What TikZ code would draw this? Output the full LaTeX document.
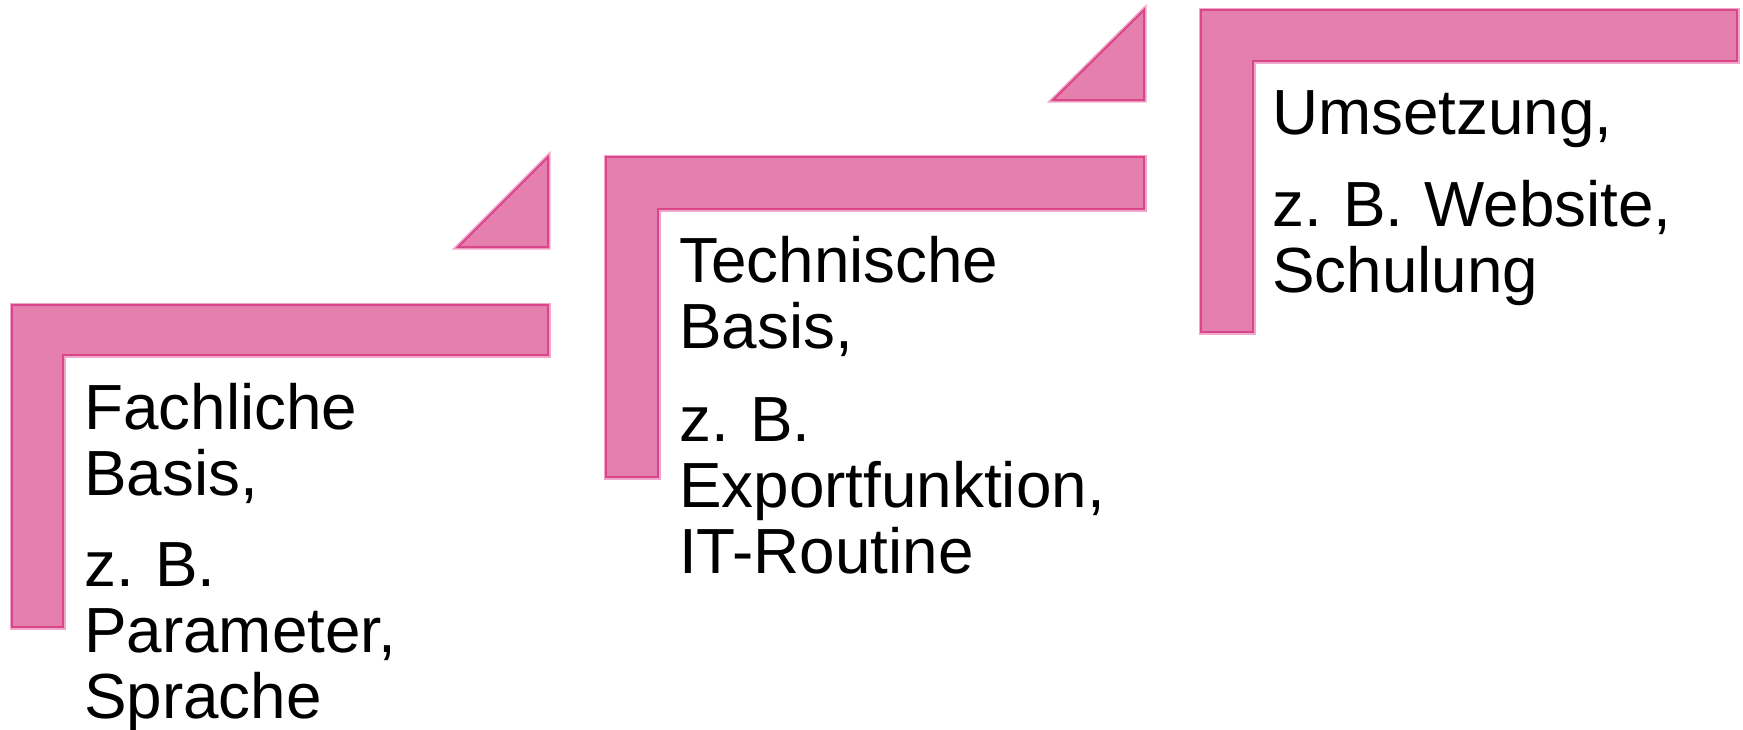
\documentclass[tikz,border=0pt]{standalone}
\usepackage{fontspec}
\setmainfont{Liberation Sans}
\frenchspacing
\definecolor{pinkfill}{RGB}{228,127,174}
\definecolor{pinkedge}{RGB}{218,70,138}
\definecolor{pinkhalo}{RGB}{240,168,202}
\tikzset{
  stepshape/.style={fill=pinkfill, draw=pinkedge, line width=2pt, line join=miter},
  halo/.style={draw=pinkhalo, line width=5pt, line join=miter},
  steptext/.style={anchor=base west, inner sep=0pt, text width=470pt, align=left,
    font=\fontsize{63.8}{66}\selectfont},
}
\begin{document}
\begin{tikzpicture}[x=1pt,y=-1pt]
\useasboundingbox (0,0) rectangle (1743,729);
% step 1
\path[halo] (12,305) -- (548,305) -- (548,355) -- (63,355) -- (63,627) -- (12,627) -- cycle;
\path[stepshape] (12,305) -- (548,305) -- (548,355) -- (63,355) -- (63,627) -- (12,627) -- cycle;
% triangle 1
\path[halo] (458,247) -- (548,157) -- (548,247) -- cycle;
\path[stepshape] (458,247) -- (548,157) -- (548,247) -- cycle;
% step 2
\path[halo] (606,157) -- (1144,157) -- (1144,209) -- (658,209) -- (658,477) -- (606,477) -- cycle;
\path[stepshape] (606,157) -- (1144,157) -- (1144,209) -- (658,209) -- (658,477) -- (606,477) -- cycle;
% triangle 2
\path[halo] (1053,100) -- (1144,10) -- (1144,100) -- cycle;
\path[stepshape] (1053,100) -- (1144,10) -- (1144,100) -- cycle;
% step 3
\path[halo] (1201,10) -- (1737,10) -- (1737,61) -- (1253,61) -- (1253,332) -- (1201,332) -- cycle;
\path[stepshape] (1201,10) -- (1737,10) -- (1737,61) -- (1253,61) -- (1253,332) -- (1201,332) -- cycle;
% texts
\node[steptext] (t1) at (84,429) {Fachliche\\Basis,\\[25pt]z. B.\\Parameter,\\Sprache};
\node[steptext] (t2) at (679,282) {Technische\\Basis,\\[27pt]z. B.\\Exportfunktion,\\IT-Routine};
\node[steptext] (t3) at (1272,134) {Umsetzung,\\[26pt]z. B. Website,\\Schulung};
\end{tikzpicture}
\end{document}
